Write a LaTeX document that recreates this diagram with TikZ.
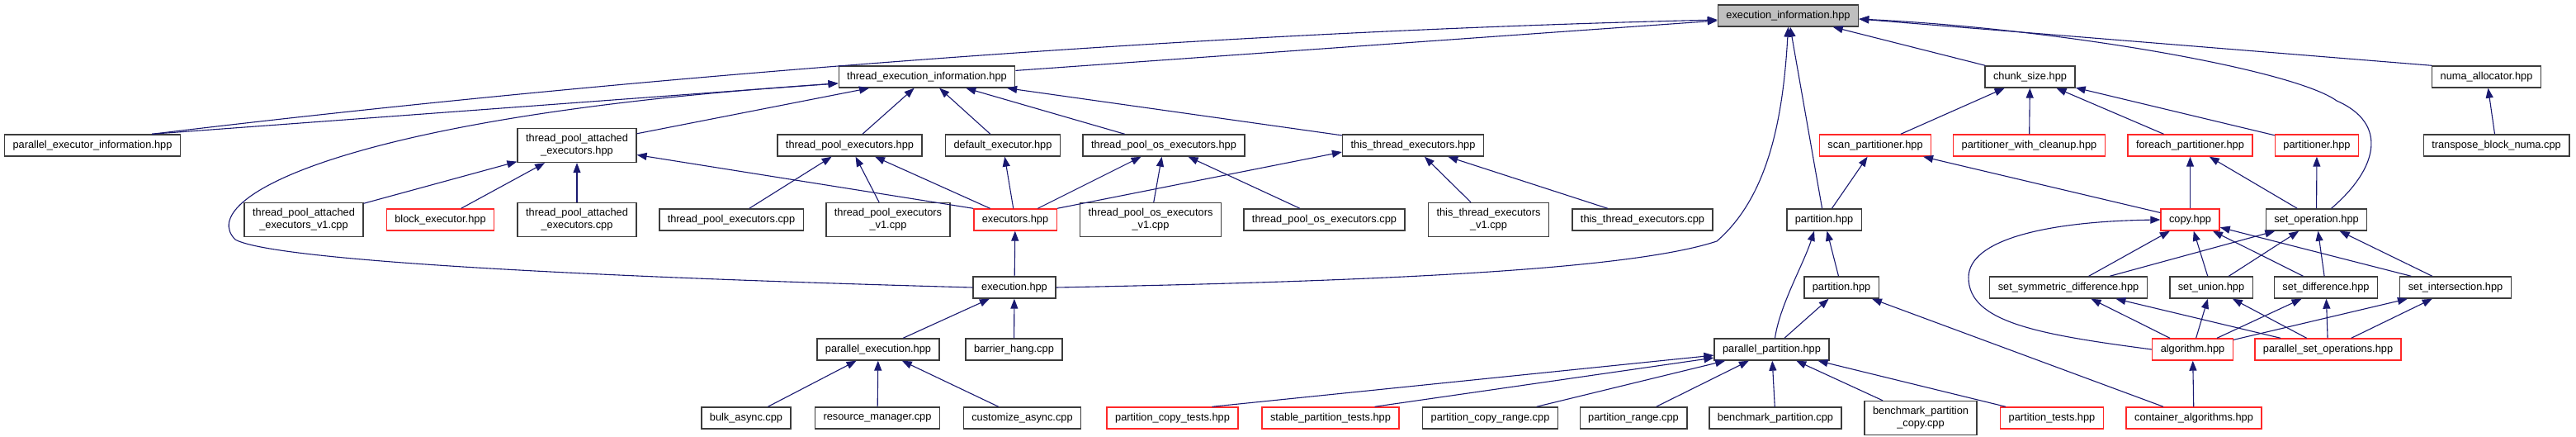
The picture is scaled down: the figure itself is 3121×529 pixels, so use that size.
\documentclass[tikz,border=0pt]{standalone}
\usepackage{fontspec}
\setmainfont{Liberation Sans}
\usepackage{xcolor}
\definecolor{incblue}{RGB}{25,25,112}
\definecolor{incred}{RGB}{255,40,40}
\definecolor{incdark}{RGB}{60,60,60}
\definecolor{incgray}{RGB}{191,191,191}
\usepackage{tikz}
\usetikzlibrary{arrows.meta,positioning}
\tikzset{
  inc node/.style={draw=incdark, line width=1.4pt, fill=white, align=center, font=\fontsize{12.8}{15}\selectfont, inner xsep=10pt, inner ysep=7pt, minimum height=26pt},
  inc red/.style={inc node, draw=incred},
  inc root/.style={inc node, fill=incgray},
  inc edge/.style={-{Triangle[length=12pt,width=9pt]}, line width=1.1pt, draw=incblue},
}
\begin{document}
\begin{tikzpicture}[x=1pt,y=-1pt]
  \useasboundingbox (0,0) rectangle (3121,529);
  \node[inc root] (ei) at (2166.5,19) {execution\_information.hpp};
  \node[inc node] (tei) at (1123,93) {thread\_execution\_information.hpp};
  \node[inc node] (chunk) at (2459.5,93) {chunk\_size.hpp};
  \node[inc node] (numa) at (3012.5,93) {numa\_allocator.hpp};
  \node[inc node] (pei) at (112,176) {parallel\_executor\_information.hpp};
  \node[inc node] (tpae) at (699,176) {thread\_pool\_attached\\\_executors.hpp};
  \node[inc node] (tpe) at (1029.5,176) {thread\_pool\_executors.hpp};
  \node[inc node] (defexec) at (1215,176) {default\_executor.hpp};
  \node[inc node] (tpose) at (1410,176) {thread\_pool\_os\_executors.hpp};
  \node[inc node] (tte) at (1712,176) {this\_thread\_executors.hpp};
  \node[inc red] (scanp) at (2272,176) {scan\_partitioner.hpp};
  \node[inc red] (pwc) at (2458.5,176) {partitioner\_with\_cleanup.hpp};
  \node[inc red] (foreachp) at (2653.5,176) {foreach\_partitioner.hpp};
  \node[inc red] (partr) at (2807,176) {partitioner.hpp};
  \node[inc node] (tbn) at (3024.5,176) {transpose\_block\_numa.cpp};
  \node[inc node] (tpaev) at (368,266) {thread\_pool\_attached\\\_executors\_v1.cpp};
  \node[inc red] (blockexec) at (533.5,266) {block\_executor.hpp};
  \node[inc node] (tpaecpp) at (699,266) {thread\_pool\_attached\\\_executors.cpp};
  \node[inc node] (tpecpp) at (886,266) {thread\_pool\_executors.cpp};
  \node[inc node] (tpev) at (1076,266) {thread\_pool\_executors\\\_v1.cpp};
  \node[inc red] (execs) at (1230,266) {executors.hpp};
  \node[inc node] (tposev) at (1394,266) {thread\_pool\_os\_executors\\\_v1.cpp};
  \node[inc node] (tposecpp) at (1604.5,266) {thread\_pool\_os\_executors.cpp};
  \node[inc node] (ttev) at (1803.5,266) {this\_thread\_executors\\\_v1.cpp};
  \node[inc node] (ttecpp) at (1990,266) {this\_thread\_executors.cpp};
  \node[inc node] (partA) at (2210,266) {partition.hpp};
  \node[inc red] (copy) at (2653.5,266) {copy.hpp};
  \node[inc node] (setop) at (2806.5,266) {set\_operation.hpp};
  \node[inc node] (exec) at (1229,348) {execution.hpp};
  \node[inc node] (partB) at (2231,348) {partition.hpp};
  \node[inc node] (setsym) at (2506,348) {set\_symmetric\_difference.hpp};
  \node[inc node] (setun) at (2679,348) {set\_union.hpp};
  \node[inc node] (setdiff) at (2818,348) {set\_difference.hpp};
  \node[inc node] (setint) at (2975,348) {set\_intersection.hpp};
  \node[inc node] (parexec) at (1064,423) {parallel\_execution.hpp};
  \node[inc node] (barrier) at (1228.5,423) {barrier\_hang.cpp};
  \node[inc node] (parpart) at (2146.5,423) {parallel\_partition.hpp};
  \node[inc red] (algo) at (2656.5,423) {algorithm.hpp};
  \node[inc red] (parset) at (2820.5,423) {parallel\_set\_operations.hpp};
  \node[inc node] (bulk) at (904,506) {bulk\_async.cpp};
  \node[inc node] (resman) at (1063,506) {resource\_manager.cpp};
  \node[inc node] (custom) at (1238.5,506) {customize\_async.cpp};
  \node[inc red] (pctests) at (1420.5,506) {partition\_copy\_tests.hpp};
  \node[inc red] (sptests) at (1612,506) {stable\_partition\_tests.hpp};
  \node[inc node] (pcrange) at (1805.5,506) {partition\_copy\_range.cpp};
  \node[inc node] (prange) at (1979,506) {partition\_range.cpp};
  \node[inc node] (benchp) at (2151,506) {benchmark\_partition.cpp};
  \node[inc node] (benchpc) at (2327,506) {benchmark\_partition\\\_copy.cpp};
  \node[inc red] (ptests) at (2486,506) {partition\_tests.hpp};
  \node[inc red] (contalg) at (2658,506) {container\_algorithms.hpp};
  \draw[inc edge] ([xshift=-35pt]pei.north east) .. controls (700,100) and (1400,40) .. ([yshift=-5pt]ei.west); \draw[inc edge] ([xshift=-35pt]pei.north east) -- (tei); \draw[inc edge] (tei) -- (ei);
  \draw[inc edge] (exec.west) .. controls (700,335) and (330,315) .. (285,290) .. controls (235,240) and (420,140) .. ([yshift=-8pt]tei.west);
  \draw[inc edge] (exec.east) .. controls (1700,340) and (1980,325) .. (2080,292) .. controls (2140,240) and (2160,150) .. (ei.south);
  \draw[inc edge] (partA) -- (ei); \draw[inc edge] (chunk) -- (ei); \draw[inc edge] (numa.north west) -- ([yshift=-4pt]ei.east);
  \draw[inc edge] ([xshift=18pt]setop.north) .. controls (2880,205) and (2895,150) .. (2831,122) .. controls (2780,85) and (2500,35) .. ([yshift=-4pt]ei.east);
  \draw[inc edge] (tpae) -- (tei); \draw[inc edge] (tpe) -- (tei); \draw[inc edge] (defexec) -- (tei); \draw[inc edge] (tpose) -- (tei); \draw[inc edge] (tte) -- (tei);
  \draw[inc edge] (tpaev) -- (tpae); \draw[inc edge] (blockexec) -- (tpae); \draw[inc edge] (tpaecpp) -- (tpae); \draw[inc edge] (execs.north west) -- (tpae);
  \draw[inc edge] (tpecpp) -- (tpe); \draw[inc edge] (tpev) -- (tpe); \draw[inc edge] (execs) -- (tpe); \draw[inc edge] (execs) -- (defexec);
  \draw[inc edge] (execs) -- (tpose); \draw[inc edge] (tposev) -- (tpose); \draw[inc edge] (tposecpp) -- (tpose);
  \draw[inc edge] (execs.north east) -- ([yshift=-8pt]tte.west); \draw[inc edge] (ttev) -- (tte); \draw[inc edge] (ttecpp) -- (tte);
  \draw[inc edge] (exec) -- (execs); \draw[inc edge] (parexec) -- (exec); \draw[inc edge] (barrier) -- (exec);
  \draw[inc edge] (bulk) -- (parexec); \draw[inc edge] (resman) -- (parexec); \draw[inc edge] (custom) -- (parexec);
  \draw[inc edge] (partA) -- (scanp); \draw[inc edge] (copy) -- (scanp); \draw[inc edge] (scanp) -- (chunk); \draw[inc edge] (pwc) -- (chunk); \draw[inc edge] (foreachp) -- (chunk); \draw[inc edge] (partr) -- (chunk);
  \draw[inc edge] (tbn) -- (numa); \draw[inc edge] (copy) -- (foreachp); \draw[inc edge] (setop) -- (foreachp); \draw[inc edge] (setop) -- (partr);
  \draw[inc edge] ([xshift=4pt]parpart.north) .. controls (2156,370) and (2185,320) .. ([xshift=-12pt]partA.south);
  \draw[inc edge] (partB) -- (partA); \draw[inc edge] (parpart) -- (partB); \draw[inc edge] (contalg) -- (partB);
  \draw[inc edge] ([xshift=-32pt]pctests.north east) -- (parpart); \draw[inc edge] ([xshift=-30pt]sptests.north east) -- (parpart); \draw[inc edge] (pcrange) -- (parpart); \draw[inc edge] (prange) -- (parpart);
  \draw[inc edge] (benchp) -- (parpart); \draw[inc edge] (benchpc) -- (parpart); \draw[inc edge] (ptests) -- (parpart);
  \draw[inc edge] (algo.west) .. controls (2470,405) and (2385,390) .. (2385,336) .. controls (2385,290) and (2480,268) .. (copy.west);
  \draw[inc edge] (setsym) -- (copy); \draw[inc edge] (setun) -- (copy); \draw[inc edge] (setdiff) -- (copy); \draw[inc edge] (setint) -- (copy);
  \draw[inc edge] (setsym) -- (setop); \draw[inc edge] (setun) -- (setop); \draw[inc edge] (setdiff) -- (setop); \draw[inc edge] (setint) -- (setop);
  \draw[inc edge] (algo) -- (setsym); \draw[inc edge] (parset) -- (setsym); \draw[inc edge] (algo) -- (setun); \draw[inc edge] (parset) -- (setun);
  \draw[inc edge] (algo) -- (setdiff); \draw[inc edge] (parset) -- (setdiff); \draw[inc edge] (algo) -- (setint); \draw[inc edge] (parset) -- (setint);
  \draw[inc edge] (contalg) -- (algo);
\end{tikzpicture}
\end{document}
